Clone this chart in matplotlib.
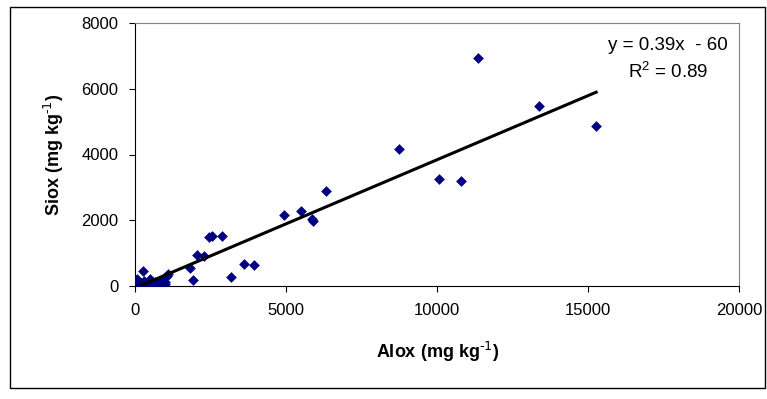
import matplotlib
matplotlib.use("Agg")
import matplotlib.pyplot as plt
from matplotlib.patches import Rectangle
import numpy as np

plt.rcParams['font.family'] = ['Liberation Sans', 'DejaVu Sans']
plt.rcParams['mathtext.default'] = 'regular'

# Oxalate-extractable Al and Si (mg/kg)
alox = [50, 100, 30, 150, 200, 280, 300, 350, 400, 450, 500, 550, 600, 650,
        700, 750, 800, 850, 900, 950, 1000, 1050, 1100, 120, 250, 450, 700,
        900, 1000,
        1810, 1930, 2060, 2300, 2460, 2560, 2870, 3170, 3600, 3940,
        4930, 5490, 5870, 5900, 6330, 8740, 10050, 10800, 11350, 13380, 15270]
siox = [200, 120, 50, 20, 80, 460, 150, 60, 30, 100, 200, 10, 50, 120,
        70, 30, 150, 90, 180, 250, 120, 300, 350, 0, 10, -10, -20,
        20, 60,
        540, 180, 930, 920, 1480, 1520, 1520, 280, 660, 650,
        2170, 2290, 2030, 1990, 2880, 4160, 3240, 3190, 6950, 5470, 4870]

# Linear trendline
slope = 0.39
intercept = -60
eq_text = "y = 0.39x  - 60"
r2_text = "R$^2$ = 0.89"

xticks = [0, 5000, 10000, 15000, 20000]
yticks = [0, 2000, 4000, 6000, 8000]

W, H = 767, 399
fig = plt.figure(figsize=(W / 100, H / 100), dpi=100)
fig.patches.append(Rectangle((10 / W, 11 / H), 755 / W, 381 / H,
                             transform=fig.transFigure, fill=False,
                             edgecolor='black', linewidth=1.0))

ax = fig.add_axes([135 / W, 113 / H, 604 / W, 263 / H])
ax.scatter(alox, siox, marker='D', s=30, color='#000080', zorder=3,
           linewidths=0)
xl = np.array([min(alox), max(alox)])
ax.plot(xl, slope * xl + intercept, color='black', linewidth=2.2, zorder=4)

ax.set_xlim(0, 20000)
ax.set_ylim(0, 8000)
ax.set_xticks(xticks)
ax.set_yticks(yticks)
ax.tick_params(axis='both', direction='out', length=4, width=0.8,
               labelsize=12)
ax.tick_params(axis='x', pad=8)
ax.tick_params(axis='y', pad=8)
for s in ['left', 'bottom']:
    ax.spines[s].set_color('black')
for s in ['top', 'right']:
    ax.spines[s].set_color('#808080')

ax.set_xlabel(r"Alox (mg kg$^{\text{-1}}$)", fontsize=13, fontweight='bold')
ax.set_ylabel(r"Siox (mg kg$^{\text{-1}}$)", fontsize=13, fontweight='bold')
ax.xaxis.label.set_va('center')
ax.yaxis.label.set_va('center')
ax.xaxis.set_label_coords((438 - 135) / 604, -(352 - 286) / 263)
ax.yaxis.set_label_coords((54 - 135) / 604, 0.5)

fig.text(668 / W, 1 - 46 / H, eq_text, ha='center', va='center',
         fontsize=13.5)
fig.text(668 / W, 1 - 72 / H, r2_text, ha='center', va='center',
         fontsize=13.5)

fig.savefig("out.png", dpi=100)
